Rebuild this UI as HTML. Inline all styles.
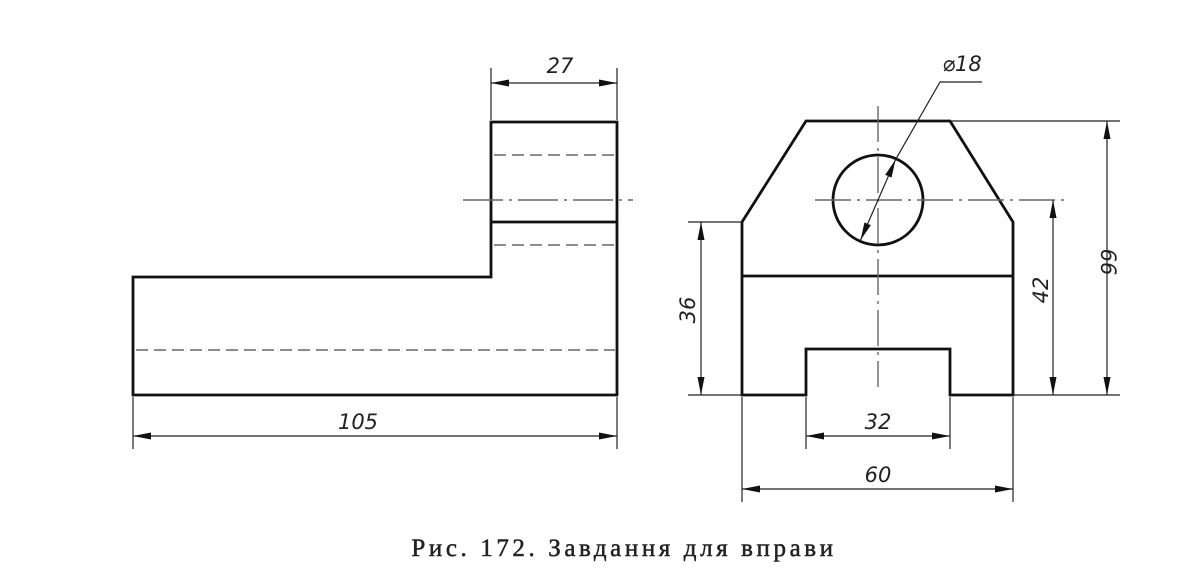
<!DOCTYPE html>
<html><head><meta charset="utf-8"><style>
html,body{margin:0;padding:0;background:#fff;}
svg{display:block;}
.t{font-family:"DejaVu Sans","Liberation Sans",sans-serif;font-style:oblique;font-size:21px;fill:#222;}
</style></head><body>
<svg width="1200" height="586" viewBox="0 0 1200 586" xmlns="http://www.w3.org/2000/svg">
<defs>
<marker id="a" viewBox="0 0 18 7" refX="18" refY="3.5" markerWidth="18" markerHeight="7" markerUnits="userSpaceOnUse" orient="auto-start-reverse">
<path d="M0,0 L18,3.5 L0,7 Z" fill="#111"/></marker>
</defs>
<g fill="none" stroke="#111" stroke-width="2.8" stroke-linejoin="miter">
<path d="M133,277 H491 V122 H617 V395 H133 Z"/>
<line x1="491" y1="222" x2="617" y2="222"/>
<path d="M806,121 H950 L1013,222 V395 H950 V349 H806 V395 H742 V222 Z"/>
<line x1="742" y1="276" x2="1013" y2="276"/>
<circle cx="878" cy="200" r="45"/>
</g>
<g fill="none" stroke="#666" stroke-width="1.4">
<line x1="494" y1="155" x2="615" y2="155" stroke-dasharray="12,6"/>
<line x1="494" y1="245" x2="615" y2="245" stroke-dasharray="12,6"/>
<line x1="136" y1="350" x2="615" y2="350" stroke-dasharray="12,6"/>
<line x1="463" y1="200" x2="633" y2="200" stroke-dasharray="40,6,3,6"/>
<line x1="878" y1="106" x2="878" y2="387" stroke-dasharray="36,6,3,6"/>
<line x1="815" y1="200" x2="1068" y2="200" stroke-dasharray="36,6,3,6"/>
</g>
<g fill="none" stroke="#222" stroke-width="1.2">
<line x1="491" y1="68" x2="491" y2="120"/><line x1="617" y1="68" x2="617" y2="120"/>
<line x1="491" y1="83" x2="617" y2="83" marker-start="url(#a)" marker-end="url(#a)"/>
<line x1="133" y1="397" x2="133" y2="449"/><line x1="617" y1="397" x2="617" y2="449"/>
<line x1="133" y1="436" x2="617" y2="436" marker-start="url(#a)" marker-end="url(#a)"/>
<line x1="688" y1="222" x2="742" y2="222"/>
<line x1="688" y1="395" x2="742" y2="395"/>
<line x1="1013" y1="395" x2="1120" y2="395"/>
<line x1="950" y1="121" x2="1120" y2="121"/>
<line x1="742" y1="397" x2="742" y2="502"/><line x1="1013" y1="397" x2="1013" y2="502"/>
<line x1="806" y1="397" x2="806" y2="449"/><line x1="950" y1="397" x2="950" y2="449"/>
<line x1="701" y1="222" x2="701" y2="395" marker-start="url(#a)" marker-end="url(#a)"/>
<line x1="1053" y1="200" x2="1053" y2="395" marker-start="url(#a)" marker-end="url(#a)"/>
<line x1="1107" y1="121" x2="1107" y2="395" marker-start="url(#a)" marker-end="url(#a)"/>
<line x1="806" y1="436" x2="950" y2="436" marker-start="url(#a)" marker-end="url(#a)"/>
<line x1="742" y1="489" x2="1013" y2="489" marker-start="url(#a)" marker-end="url(#a)"/>
<line x1="860.5" y1="240.3" x2="895.5" y2="159.7" marker-start="url(#a)" marker-end="url(#a)"/>
<polyline points="895.5,159.7 940,82 982,82"/>
</g>
<text class="t" x="560" y="73" text-anchor="middle">27</text>
<text class="t" x="358" y="429" text-anchor="middle">105</text>
<text class="t" x="878" y="429" text-anchor="middle">32</text>
<text class="t" x="878" y="482" text-anchor="middle">60</text>
<text class="t" x="962" y="71" text-anchor="middle">⌀18</text>
<text class="t" transform="translate(695,310) rotate(-90)" text-anchor="middle">36</text>
<text class="t" transform="translate(1048,290) rotate(-90)" text-anchor="middle">42</text>
<text class="t" transform="translate(1101,262) rotate(90)" text-anchor="middle">66</text>
<text x="624" y="556" text-anchor="middle" font-family="'Liberation Serif',serif" font-size="25" fill="#222" stroke="#222" stroke-width="0.5" letter-spacing="3.6">Рис. 172. Завдання для вправи</text>
</svg>
</body></html>
